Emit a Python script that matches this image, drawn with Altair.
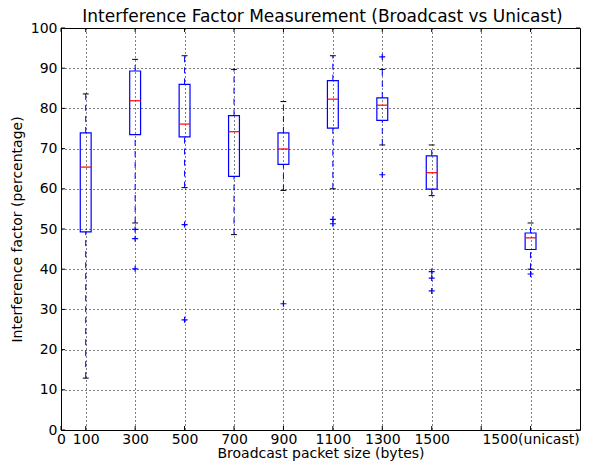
import altair as alt
import pandas as pd

# ---- data ----
positions = [100, 300, 500, 700, 900, 1100, 1300, 1500, 1900]
whisker_low = [12.9, 51.5, 60.3, 48.6, 59.6, 60.0, 70.9, 58.3, 40.0]
q1 = [49.3, 73.5, 72.9, 63.1, 66.1, 75.1, 77.0, 59.9, 44.9]
median = [65.4, 81.9, 76.1, 74.2, 69.9, 82.3, 80.8, 64.0, 47.8]
q3 = [73.9, 89.3, 86.0, 78.2, 73.9, 86.9, 82.6, 68.2, 49.0]
whisker_high = [83.6, 92.2, 93.1, 89.7, 81.7, 93.1, 89.7, 70.9, 51.5]

outlier_pos = [300, 300, 300, 500, 500, 900, 1100, 1100, 1300, 1300, 1500, 1500, 1500, 1900]
outlier_val = [49.9, 47.6, 40.1, 51.1, 27.4, 31.4, 52.4, 51.3, 92.8, 63.5, 39.4, 37.8, 34.6, 38.8]

x_tick_values = [0, 100, 300, 500, 700, 900, 1100, 1300, 1500, 1700, 1900]
y_tick_values = [0, 10, 20, 30, 40, 50, 60, 70, 80, 90, 100]

chart_title = ["Interference Factor Measurement (Broadcast vs Unicast)"]

W, H = 519, 402
FONT = "DejaVu Sans"
BLUE = "#0000ff"

box_df = pd.DataFrame({
    "pos": positions, "wlo": whisker_low, "q1": q1, "med": median,
    "q3": q3, "whi": whisker_high,
})
out_df = pd.DataFrame({"pos": outlier_pos, "val": outlier_val})
xt_df = pd.DataFrame({"v": x_tick_values})
yt_df = pd.DataFrame({"v": y_tick_values})
title_df = pd.DataFrame({"t": chart_title})

xs = alt.Scale(domain=[0, 2100], nice=False, zero=False)
ys = alt.Scale(domain=[0, 100], nice=False)
XT = "Broadcast packet size (bytes)"
YT = "Interference factor (percentage)"

x_axis = alt.Axis(
    values=x_tick_values, format="d",
    labelExpr="datum.value == 1900 ? '1500(unicast)' : (datum.value == 1700 ? '' : datum.label)",
    labelFlush=False, labelOverlap=False, labelBound=False,
    labelPadding=13, labelBaseline="alphabetic",
    titleY=27.5, titleBaseline="alphabetic",
)
y_axis = alt.Axis(
    values=y_tick_values, format="d", labelPadding=4,
    titleX=-39.5, titleY=H / 2, titleAngle=270, titleAlign="center",
    titleBaseline="alphabetic",
)

def X(f):
    return alt.X(f, scale=xs, axis=x_axis, title=XT)

def Y(f):
    return alt.Y(f, scale=ys, axis=y_axis, title=YT)

base = alt.Chart(box_df).transform_calculate(
    left="datum.pos - 22", right="datum.pos + 22",
    cl="datum.pos - 12", cr="datum.pos + 12",
)

whisk_hi = base.mark_rule(color=BLUE, strokeWidth=1, strokeDash=[6, 5]).encode(
    x=X("pos:Q"), y=Y("q3:Q"), y2="whi:Q")
whisk_lo = base.mark_rule(color=BLUE, strokeWidth=1, strokeDash=[6, 5]).encode(
    x=X("pos:Q"), y=Y("wlo:Q"), y2="q1:Q")
cap_hi = base.mark_rule(color="black", strokeWidth=1).encode(
    x=X("cl:Q"), x2="cr:Q", y=Y("whi:Q"))
cap_lo = base.mark_rule(color="black", strokeWidth=1).encode(
    x=X("cl:Q"), x2="cr:Q", y=Y("wlo:Q"))
box = base.mark_rect(fill=None, fillOpacity=0, stroke=BLUE, strokeWidth=1.2).encode(
    x=X("left:Q"), x2="right:Q", y=Y("q1:Q"), y2="q3:Q")
med = base.mark_rule(color="#ff0000", strokeWidth=1.2).encode(
    x=X("left:Q"), x2="right:Q", y=Y("med:Q"))

outl = alt.Chart(out_df).mark_point(
    shape="M-1,0L1,0M0,-1L0,1", filled=False, stroke=BLUE, strokeWidth=1.2,
    size=36, opacity=1,
).encode(x=X("pos:Q"), y=Y("val:Q"))

# inward tick marks on all four sides
xt_bot = alt.Chart(xt_df).mark_rule(color="black").encode(
    x=X("v:Q"), y=alt.value(H), y2=alt.value(H - 4))
xt_top = alt.Chart(xt_df).mark_rule(color="black").encode(
    x=X("v:Q"), y=alt.value(0), y2=alt.value(4))
yt_left = alt.Chart(yt_df).mark_rule(color="black").encode(
    y=Y("v:Q"), x=alt.value(0), x2=alt.value(4))
yt_right = alt.Chart(yt_df).mark_rule(color="black").encode(
    y=Y("v:Q"), x=alt.value(W), x2=alt.value(W - 4))

# chart title as a text mark above the plot area
title_mark = alt.Chart(title_df).mark_text(
    font=FONT, fontSize=17, color="black", align="center",
    baseline="alphabetic",
).encode(text="t:N", x=alt.value(W / 2 + 2), y=alt.value(-6.3))

chart = alt.layer(
    whisk_hi, whisk_lo, cap_hi, cap_lo, box, med, outl,
    xt_bot, xt_top, yt_left, yt_right, title_mark,
).properties(
    width=W, height=H,
    background="white",
    autosize=alt.AutoSizeParams(type="none"),
    padding={"left": 53, "top": 20, "right": 1, "bottom": 33},
).configure_view(
    stroke="black", strokeWidth=1,
).configure_axis(
    labelFont=FONT, titleFont=FONT, labelFontSize=14, titleFontSize=14,
    labelColor="black", titleColor="black", titleFontWeight="normal",
    grid=True, gridColor="black", gridDash=[1, 3], gridOpacity=1, gridWidth=1,
    domain=False, ticks=False, tickSize=0,
)

chart.save("out.html", embed_options={"renderer": "svg", "actions": False})
